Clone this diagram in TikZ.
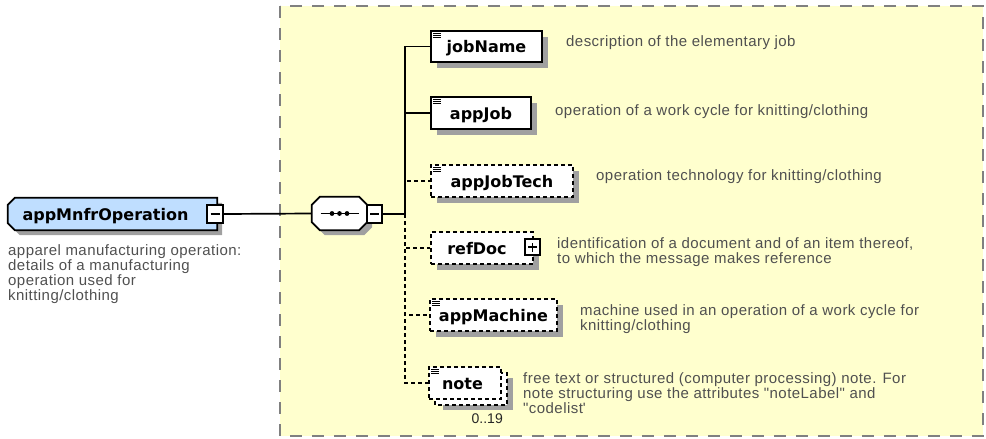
\documentclass[tikz,border=0pt]{standalone}
\usepackage{fontspec}
\setmainfont{Liberation Sans}
\newfontfamily\namefont{DejaVu Sans}
\newfontfamily\descfont[LetterSpace=3]{Liberation Sans}
\usetikzlibrary{shadows}
\pgfdeclarelayer{bglayer}
\pgfdeclarelayer{shapelayer}
\pgfsetlayers{bglayer,shapelayer,main}
\definecolor{yel}{RGB}{255,255,206}
\definecolor{blu}{RGB}{191,222,255}
\definecolor{shadowcol}{RGB}{160,160,160}
\definecolor{dsc}{RGB}{80,80,80}
\definecolor{frm}{RGB}{128,128,128}
\newcommand\chamL[3]{([shift={(#2+7,#3)}]#1.north west) -- ([shift={(#2,#3)}]#1.north east) -- ([shift={(#2,#3)}]#1.south east) -- ([shift={(#2+7,#3)}]#1.south west) -- ([shift={(#2,#3-7)}]#1.south west) -- ([shift={(#2,#3+7)}]#1.north west) -- cycle}
\newcommand\chamA[3]{([shift={(#2+8,#3)}]#1.north west) -- ([shift={(#2-8,#3)}]#1.north east) -- ([shift={(#2,#3+8)}]#1.north east) -- ([shift={(#2,#3-8)}]#1.south east) -- ([shift={(#2-8,#3)}]#1.south east) -- ([shift={(#2+8,#3)}]#1.south west) -- ([shift={(#2,#3-8)}]#1.south west) -- ([shift={(#2,#3+8)}]#1.north west) -- cycle}
\newcommand\icon[1]{\foreach \k in {0,2.2,4.4}{\draw[iconline] ([shift={(3,3+\k)}]#1.north west) -- ([shift={(11,3+\k)}]#1.north west);}}
\begin{document}
\begin{tikzpicture}[x=1pt,y=-1pt,
  frame/.style={draw=frm,fill=yel,line width=1.8pt,dash pattern=on 12pt off 10pt},
  boxline/.style={draw=black,line width=1.8pt},
  shadowed/.style={drop shadow={shadow xshift=6pt,shadow yshift=-6pt,fill=shadowcol,opacity=1}},
  plainelem/.style={draw=black,line width=1.8pt,fill=white,inner sep=0pt,text height=12pt,text depth=0pt,font=\namefont\bfseries\fontsize{16}{18}\selectfont},
  elem/.style={plainelem,shadowed},
  optelem/.style={elem,dash pattern=on 4pt off 3pt},
  titletext/.style={inner sep=0pt,text height=12pt,text depth=0pt,font=\namefont\bfseries\fontsize{16}{18}\selectfont},
  pmbox/.style={draw=black,line width=1.5pt,fill=white,inner sep=0pt},
  pmline/.style={line width=1.4pt},
  iconline/.style={line width=0.8pt},
  conn/.style={draw=black,line width=1.7pt},
  optconn/.style={conn,dash pattern=on 4pt off 3pt},
  desc/.style={anchor=north west,align=left,inner sep=0pt,text=dsc,font=\descfont\fontsize{15}{15}\selectfont}]
\useasboundingbox (0,0) rectangle (986,439);
\begin{pgfonlayer}{bglayer}
\draw[frame] (280,6) rectangle (983,436);
\end{pgfonlayer}

% root element
\node[titletext,minimum width=209pt,minimum height=32pt] (main) at (112.5,214) {appMnfrOperation\hspace*{14pt}};
\begin{pgfonlayer}{shapelayer}
\fill[shadowcol] \chamL{main}{5}{5};
\draw[boxline,fill=blu] \chamL{main}{0}{0};
\end{pgfonlayer}
\node[pmbox,minimum width=16pt,minimum height=18pt] (mainm) at (215,214) {};
\draw[pmline] ([xshift=-4.5pt]mainm.center) -- ([xshift=4.5pt]mainm.center);
\node[desc] (maindesc) at (8,243) {\rule{0pt}{12pt}apparel manufacturing operation:\\details of a manufacturing\\operation used for\\knitting/clothing};

% sequence compositor
\node[minimum width=55pt,minimum height=33pt,inner sep=0pt] (seq) at (339.5,213.5) {};
\begin{pgfonlayer}{shapelayer}
\fill[shadowcol] \chamA{seq}{5}{5};
\draw[boxline,fill=white] \chamA{seq}{0}{0};
\end{pgfonlayer}
\draw[line width=1.4pt] ([xshift=-19pt]seq.center) -- ([xshift=19pt]seq.center);
\foreach \d in {-7.5,0,7.5}{\fill ([xshift=\d pt]seq.center) circle (2.4pt);}
\node[pmbox,minimum width=15pt,minimum height=18pt] (seqm) at (374.5,214) {};
\draw[pmline] ([xshift=-4.5pt]seqm.center) -- ([xshift=4.5pt]seqm.center);

% children
\node[elem,minimum width=111pt,minimum height=31pt] (jobName) at (486.5,46.5) {jobName};
\icon{jobName}
\node[elem,minimum width=100pt,minimum height=32pt] (appJob) at (481,113) {appJob};
\icon{appJob}
\node[optelem,minimum width=142pt,minimum height=32pt] (appJobTech) at (502,181) {appJobTech};
\icon{appJobTech}
\node[optelem,minimum width=102pt,minimum height=32pt] (refDoc) at (482,248) {refDoc\hspace*{10pt}};
\node[pmbox,minimum width=15pt,minimum height=16pt] (refDocp) at (532.5,247) {};
\draw[pmline] ([xshift=-4.5pt]refDocp.center) -- ([xshift=4.5pt]refDocp.center);
\draw[pmline] ([yshift=-4.5pt]refDocp.center) -- ([yshift=4.5pt]refDocp.center);
\node[optelem,minimum width=127pt,minimum height=32pt] (appMachine) at (493.5,315) {appMachine};
\icon{appMachine}
\fill[shadowcol] (443,378) rectangle (513,410);
\draw[boxline,fill=white,dash pattern=on 4pt off 3pt] (435,373) rectangle (507,405);
\node[plainelem,dash pattern=on 4pt off 3pt,minimum width=72pt,minimum height=32pt] (note) at (465,383) {note\hspace*{5pt}};
\icon{note}
\node[anchor=base east,inner sep=0pt,font=\fontsize{14}{14}\selectfont,text=black!85] (card) at (503,423) {0..19};

% connectors
\coordinate (bus) at (405,214);
\draw[conn] (mainm.east) -- (seq.west);
\draw[conn] (seqm.east) -- (bus);
\draw[conn] (bus) |- (jobName.west);
\draw[conn] (bus) |- (appJob.west);
\draw[optconn] (bus) |- (appJobTech.west);
\draw[optconn] (bus) |- (refDoc.west);
\draw[optconn] (bus) |- (appMachine.west);
\draw[optconn] (bus) |- (note.west);

% descriptions
\node[desc] (d1) at (566,34) {\rule{0pt}{12pt}description of the elementary job};
\node[desc] (d2) at (555,103) {\rule{0pt}{12pt}operation of a work cycle for knitting/clothing};
\node[desc] (d3) at (596,168) {\rule{0pt}{12pt}operation technology for knitting/clothing};
\node[desc] (d4) at (557,236) {\rule{0pt}{12pt}identification of a document and of an item thereof,\\to which the message makes reference};
\node[desc] (d5) at (580,303) {\rule{0pt}{12pt}machine used in an operation of a work cycle for\\knitting/clothing};
\node[desc] (d6) at (523,371) {\rule{0pt}{12pt}free text or structured (computer processing) note. For\\note structuring use the attributes "noteLabel" and\\"codelist\textquotesingle};
\end{tikzpicture}
\end{document}
